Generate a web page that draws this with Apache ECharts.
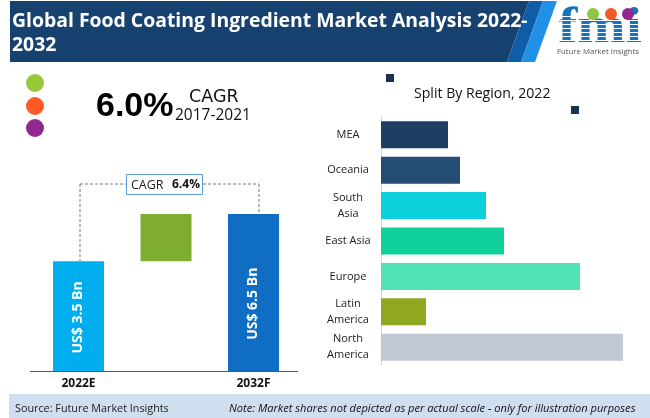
<!DOCTYPE html>
<html style="height: 100%">
<head>
<meta charset="utf-8">
</head>
<body style="height: 100%; margin: 0; background: #fff">
<div id="container" style="width: 650px; height: 418px"></div>
<script src="https://cdn.jsdelivr.net/npm/echarts@6/dist/echarts.min.js"></script>
<script>
// left chart: bars are not to scale in the original, values are read off the bar heights
var yearCats = ['2022E', '', '2032F'];
var yearBase = [0, 4.55, 0];
var yearBars = [4.55, 1.95, 6.5];
var yearLabels = ['US$ 3.5 Bn', '', 'US$ 6.5 Bn'];
var yearColors = ['#00AEEF', '#7FAD31', '#0F6DC4'];

// right chart: split by region, top to bottom
var regions = ['MEA', 'Oceania', 'South\nAsia', 'East Asia', 'Europe', 'Latin\nAmerica', 'North\nAmerica'];
var regionValues = [6.7, 7.9, 10.5, 12.3, 19.9, 4.5, 24.2];
var regionColors = ['#1C3F62', '#234D75', '#0BD0DC', '#0FD09B', '#53E2B6', '#90A820', '#C1C7D3'];

var font = '"Open Sans", "Noto Sans", sans-serif';
var dom = document.getElementById('container');
var myChart = echarts.init(dom);

function txt(text, x, y, size, color, extra) {
    return {
        type: 'text',
        z: 20,
        style: Object.assign({
            text: text, x: x, y: y, fontSize: size, fill: color,
            fontFamily: font, textVerticalAlign: 'middle'
        }, extra || {})
    };
}
function rect(x, y, w, h, fill, z) {
    return { type: 'rect', z: z || 5, shape: { x: x, y: y, width: w, height: h }, style: { fill: fill } };
}
function poly(points, fill) {
    return { type: 'polygon', z: 5, shape: { points: points }, style: { fill: fill } };
}
function dot(x, y, r, fill, z) {
    return { type: 'circle', z: z || 6, shape: { cx: x, cy: y, r: r }, style: { fill: fill } };
}
function dash(x1, y1, x2, y2) {
    return {
        type: 'line', z: 3,
        shape: { x1: x1, y1: y1, x2: x2, y2: y2 },
        style: { stroke: '#777', lineWidth: 1, lineDash: [3, 2] }
    };
}

var logoText = txt('fmi', 558, 29, 50, '#1674BC', { fontWeight: 'bold', fontFamily: '"Liberation Serif", serif' });
logoText.scaleX = 1.16;
logoText.x = 558;
logoText.style.x = 0;

var deco = [
    // header band
    poly([[10, 1], [529, 1], [507, 62], [10, 62]], '#17426F'),
    poly([[529, 1], [543, 1], [521, 62], [507, 62]], '#0F5CA8'),
    poly([[543, 1], [557, 1], [535, 62], [521, 62]], '#2191E8'),
    txt('Global Food Coating Ingredient Market Analysis 2022-', 12, 21, 19.4, '#fff', { fontWeight: 'bold' }),
    txt('2032', 12, 45, 19.4, '#fff', { fontWeight: 'bold' }),

    // logo
    logoText,
    dot(593, 14, 6, '#8DC63F', 22),
    dot(611, 14, 6, '#F15A24', 22),
    dot(628, 14, 6, '#92278F', 22),
    txt('Future Market Insights', 557, 52, 7.8, '#555'),

    // dots and CAGR headline
    dot(35, 83, 9, '#97C83C'),
    dot(35, 106, 9, '#FF5A26'),
    dot(35, 128, 9, '#92278F'),
    txt('6.0%', 96, 107, 34, '#000', { fontWeight: 'bold', fontFamily: '"Liberation Sans", sans-serif' }),
    txt('CAGR', 189, 97, 17.5, '#111', { fontFamily: '"DejaVu Sans", sans-serif' }),
    txt('2017-2021', 175, 116, 15.5, '#111'),

    // CAGR bracket
    dash(80, 184, 80, 261),
    dash(80, 184, 126, 184),
    dash(203, 184, 259, 184),
    dash(259, 184, 259, 214),
    {
        type: 'rect', z: 6,
        shape: { x: 126.5, y: 174.5, width: 76, height: 20 },
        style: { fill: '#fff', stroke: '#5B9BD5', lineWidth: 1 }
    },
    txt('CAGR', 131, 185, 12.5, '#222'),
    txt('6.4%', 172, 185, 12, '#111', { fontWeight: 'bold' }),

    // left baseline
    { type: 'line', z: 8, shape: { x1: 30, y1: 371.5, x2: 298, y2: 371.5 }, style: { stroke: '#555', lineWidth: 1 } },

    // region title and small squares
    rect(386, 74, 8, 8, '#17334F'),
    rect(571, 106, 8, 8, '#17334F'),
    txt('Split By Region, 2022', 414, 94, 14.1, '#111'),

    // footer
    rect(9, 394, 641, 24, '#CFDFF0'),
    txt('Source: Future Market Insights', 15, 409, 10.8, '#222'),
    txt('Note: Market shares not depicted as per actual scale - only for illustration purposes', 229, 409, 11.1, '#111', { fontStyle: 'italic' })
];

// white stripes cutting through the logo letters
for (var sy = 16; sy < 48; sy += 4) {
    deco.push(rect(557, sy, 90, 1, '#fff', 21));
}

var option = {
    animation: false,
    backgroundColor: '#fff',
    graphic: { elements: deco },
    grid: [
        { left: 34.75, top: 214, width: 262.5, height: 157.5 },
        { left: 381, top: 117, width: 242, height: 248 }
    ],
    xAxis: [
        {
            gridIndex: 0, type: 'category', data: yearCats,
            axisLine: { show: false }, axisTick: { show: false },
            axisLabel: { color: '#111', fontFamily: font, fontSize: 12, fontWeight: 'bold', margin: 6, interval: 0 }
        },
        { gridIndex: 1, type: 'value', min: 0, max: 24.2, show: false }
    ],
    yAxis: [
        { gridIndex: 0, type: 'value', min: 0, max: 6.5, show: false },
        {
            gridIndex: 1, type: 'category', data: regions, inverse: true,
            axisLine: { lineStyle: { color: '#D4D4D4' } },
            axisTick: { length: 5, lineStyle: { color: '#D4D4D4' } },
            axisLabel: { color: '#222', fontFamily: font, fontSize: 11, margin: 33, align: 'center', lineHeight: 16 }
        }
    ],
    series: [
        {
            type: 'bar', xAxisIndex: 0, yAxisIndex: 0, stack: 'yr', barWidth: 51,
            data: yearBase, itemStyle: { color: 'transparent' }, silent: true
        },
        {
            type: 'bar', xAxisIndex: 0, yAxisIndex: 0, stack: 'yr', barWidth: 51,
            data: yearBars.map(function (v, i) {
                return {
                    value: v,
                    itemStyle: { color: yearColors[i] },
                    label: {
                        show: yearLabels[i] !== '',
                        formatter: yearLabels[i],
                        position: 'inside',
                        offset: i === 2 ? [-11, 0] : [-1, 0], // offset turns with the label
                        rotate: 90,
                        color: '#fff',
                        fontFamily: font,
                        fontSize: 14,
                        fontWeight: 'bold'
                    }
                };
            })
        },
        {
            type: 'bar', xAxisIndex: 1, yAxisIndex: 1, barWidth: 27,
            data: regionValues.map(function (v, i) {
                return { value: v, itemStyle: { color: regionColors[i] } };
            })
        }
    ]
};

if (option && typeof option === 'object') {
    myChart.setOption(option);
}
</script>
</body>
</html>
